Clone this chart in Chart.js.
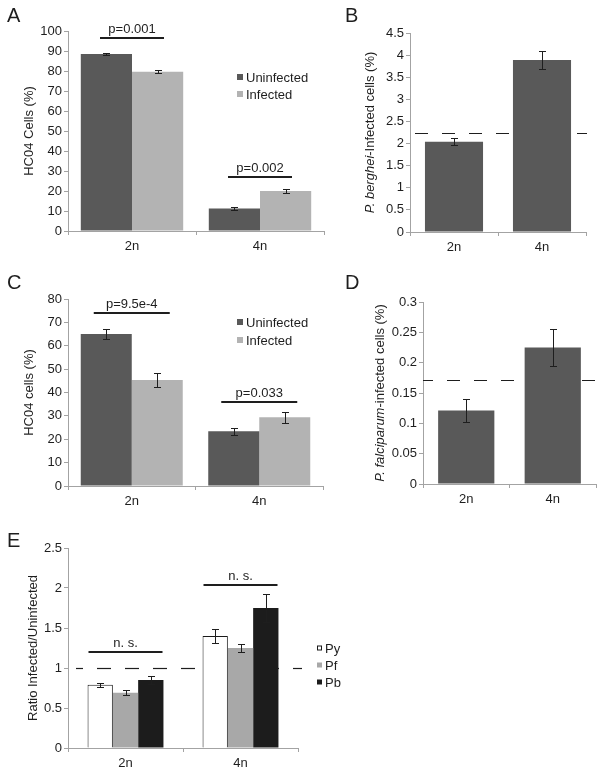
<!DOCTYPE html>
<html>
<head>
<meta charset="utf-8">
<script src="https://cdn.jsdelivr.net/npm/chart.js@4.4.0/dist/chart.umd.min.js"></script>
<style>
  body { margin: 0; background: #fff; }
  #fig { position: relative; width: 602px; height: 771px; }
  canvas { position: absolute; }
</style>
</head>
<body>
<div id="fig">
  <canvas id="chartA" width="340" height="265" style="left:0;top:0"></canvas>
  <canvas id="chartB" width="262" height="265" style="left:340px;top:0"></canvas>
  <canvas id="chartC" width="340" height="265" style="left:0;top:265px"></canvas>
  <canvas id="chartD" width="262" height="265" style="left:340px;top:265px"></canvas>
  <canvas id="chartE" width="602" height="241" style="left:0;top:530px"></canvas>
</div>
<script>
var groups = ['2n', '4n'];

// A - HC04 cells, P. berghei
var aUninfected = [88.5, 11.2];
var aUninfectedErr = [0.6, 0.6];
var aInfected = [79.6, 20.0];
var aInfectedErr = [0.8, 0.8];
var aPLabels = ['p=0.001', 'p=0.002'];
var aPLevels = [96.6, 27];

// B - P. berghei infected cells
var bInfected = [2.04, 3.89];
var bInfectedErr = [0.075, 0.2];
var bMean = 2.23;

// C - HC04 cells, P. falciparum
var cUninfected = [65.0, 23.4];
var cUninfectedErr = [2.1, 1.5];
var cInfected = [45.3, 29.4];
var cInfectedErr = [3.0, 2.4];
var cPLabels = ['p=9.5e-4', 'p=0.033'];
var cPLevels = [74, 36];

// D - P. falciparum infected cells
var dInfected = [0.121, 0.225];
var dInfectedErr = [0.019, 0.031];
var dMean = 0.171;

// E - ratio infected / uninfected
var ePy = [0.79, 1.40];
var ePyErr = [0.027, 0.083];
var ePf = [0.69, 1.25];
var ePfErr = [0.03, 0.046];
var ePb = [0.85, 1.75];
var ePbErr = [0.05, 0.18];
var eLabels = ['n. s.', 'n. s.'];
var eLevels = [1.2, 2.04];
var eRef = 1;

var FONT = "'Liberation Sans', Arial, sans-serif";
var INK = '#1e1e1e';
var AXIS = '#a3a3a3';
var DARK = '#595959';
var LIGHT = '#b3b3b3';

function fmt(v) {
  return String(Math.round(v * 100) / 100);
}

var errorBars = {
  id: 'errorBars',
  afterDatasetsDraw: function(chart) {
    var ctx = chart.ctx, y = chart.scales.y;
    ctx.save();
    ctx.strokeStyle = INK;
    ctx.lineWidth = 1;
    chart.data.datasets.forEach(function(ds, i) {
      if (!ds.errors) return;
      chart.getDatasetMeta(i).data.forEach(function(bar, j) {
        var v = ds.data[j], e = ds.errors[j];
        var x = Math.round(bar.x) + 0.5;
        var top = Math.round(y.getPixelForValue(v + e)) + 0.5;
        var bot = Math.round(y.getPixelForValue(v - e)) + 0.5;
        ctx.beginPath();
        ctx.moveTo(x, top); ctx.lineTo(x, bot);
        ctx.moveTo(x - 3.5, top); ctx.lineTo(x + 3.5, top);
        ctx.moveTo(x - 3.5, bot); ctx.lineTo(x + 3.5, bot);
        ctx.stroke();
      });
    });
    ctx.restore();
  }
};

function drawTitle(ctx, parts, cx, cy) {
  ctx.save();
  ctx.translate(cx, cy);
  ctx.rotate(-Math.PI / 2);
  var total = 0;
  parts.forEach(function(p) {
    ctx.font = (p[1] ? 'italic ' : '') + '13px ' + FONT;
    total += ctx.measureText(p[0]).width;
  });
  var x = -total / 2;
  ctx.fillStyle = INK;
  ctx.textBaseline = 'middle';
  ctx.textAlign = 'left';
  parts.forEach(function(p) {
    ctx.font = (p[1] ? 'italic ' : '') + '13px ' + FONT;
    ctx.fillText(p[0], x, 0);
    x += ctx.measureText(p[0]).width;
  });
  ctx.restore();
}

// letters, axis titles, legend, reference line, significance bars
function figure(cfg) {
  return {
    id: 'figure',
    beforeDatasetsDraw: function(chart) {
      if (!cfg.ref) return;
      var ctx = chart.ctx, area = chart.chartArea;
      var yy = Math.round(chart.scales.y.getPixelForValue(cfg.ref.value)) + 0.5;
      ctx.save();
      ctx.strokeStyle = INK;
      ctx.lineWidth = 1.2;
      ctx.setLineDash(cfg.ref.dash);
      ctx.lineDashOffset = cfg.ref.offset;
      ctx.beginPath();
      ctx.moveTo(area.left + cfg.ref.start, yy);
      ctx.lineTo(area.right + cfg.ref.end, yy);
      ctx.stroke();
      ctx.restore();
    },
    afterDraw: function(chart) {
      var ctx = chart.ctx, area = chart.chartArea;
      ctx.save();
      ctx.fillStyle = INK;
      ctx.font = '20px ' + FONT;
      ctx.textBaseline = 'alphabetic';
      ctx.fillText(cfg.letter[0], cfg.letter[1], cfg.letter[2]);
      ctx.restore();

      drawTitle(ctx, cfg.title, cfg.titleX, (area.top + area.bottom) / 2);

      if (cfg.legend) {
        var lg = cfg.legend;
        ctx.save();
        ctx.font = '13px ' + FONT;
        ctx.textBaseline = 'middle';
        chart.data.datasets.forEach(function(ds, i) {
          var cy = lg.y + i * lg.gap;
          var s = lg.size;
          ctx.fillStyle = ds.backgroundColor;
          ctx.fillRect(lg.x, cy - s / 2, s, s);
          if (ds.borderWidth) {
            ctx.strokeStyle = ds.borderColor;
            ctx.lineWidth = 1;
            ctx.strokeRect(lg.x + 0.5, cy - s / 2 + 0.5, s - 1, s - 1);
          }
          ctx.fillStyle = INK;
          ctx.fillText(ds.label, lg.x + s + 3, cy + 1);
        });
        ctx.restore();
      }

      if (cfg.sig) {
        var xs = chart.scales.x, ys = chart.scales.y;
        ctx.save();
        ctx.strokeStyle = INK;
        ctx.fillStyle = INK;
        ctx.lineWidth = 2;
        ctx.font = '13px ' + FONT;
        ctx.textAlign = 'center';
        ctx.textBaseline = 'bottom';
        cfg.sig.levels.forEach(function(lv, i) {
          var cx = xs.getPixelForValue(i);
          var yy = Math.round(ys.getPixelForValue(lv));
          ctx.beginPath();
          ctx.moveTo(cx - cfg.sig.half, yy);
          ctx.lineTo(cx + cfg.sig.half, yy);
          ctx.stroke();
          ctx.fillText(cfg.sig.labels[i], cx, yy - 2);
        });
        ctx.restore();
      }
    }
  };
}

function makePanel(id, cfg) {
  var canvas = document.getElementById(id);
  var ctx = canvas.getContext('2d');
  var W = canvas.width, H = canvas.height, a = cfg.area;
  var config = {
    type: 'bar',
    data: { labels: groups, datasets: cfg.datasets },
    options: {
      responsive: false,
      animation: false,
      devicePixelRatio: 1,
      layout: { padding: { left: 0, top: a.top, right: W - a.right, bottom: H - a.bottom - 20 } },
      datasets: { bar: { categoryPercentage: cfg.cat, barPercentage: 1 } },
      plugins: { legend: { display: false }, tooltip: { enabled: false } },
      scales: {
        x: {
          grid: { drawOnChartArea: false, color: AXIS, tickLength: 4, offset: true },
          border: { color: AXIS },
          ticks: { color: INK, font: { family: FONT, size: 13 }, padding: 4 },
          afterFit: function(s) { s.height = 20; }
        },
        y: {
          min: 0,
          max: cfg.max,
          grid: { drawOnChartArea: false, color: AXIS, tickLength: 4 },
          border: { color: AXIS },
          ticks: { stepSize: cfg.step, color: INK, font: { family: FONT, size: 13 }, padding: 2, callback: fmt },
          afterFit: function(s) { s.width = a.left; }
        }
      }
    },
    plugins: [errorBars, figure(cfg)]
  };
  return new Chart(ctx, config);
}

window.onload = function() {
  makePanel('chartA', {
    area: { left: 68, top: 31, right: 324, bottom: 231 },
    max: 100, step: 10, cat: 0.8,
    letter: ['A', 7, 22],
    title: [['HC04 Cells (%)', false]], titleX: 29,
    legend: { x: 237, y: 77, gap: 17, size: 6 },
    sig: { levels: aPLevels, labels: aPLabels, half: 32 },
    datasets: [
      { label: 'Uninfected', data: aUninfected, errors: aUninfectedErr, backgroundColor: DARK },
      { label: 'Infected', data: aInfected, errors: aInfectedErr, backgroundColor: LIGHT }
    ]
  });

  makePanel('chartB', {
    area: { left: 70, top: 33, right: 246, bottom: 232 },
    max: 4.5, step: 0.5, cat: 0.66,
    letter: ['B', 5, 22],
    title: [['P. berghei', true], ['-Infected cells (%)', false]], titleX: 30,
    ref: { value: bMean, start: 5, end: 1, dash: [13, 14], offset: 0 },
    datasets: [
      { label: 'Infected', data: bInfected, errors: bInfectedErr, backgroundColor: DARK }
    ]
  });

  makePanel('chartC', {
    area: { left: 68, top: 34, right: 323, bottom: 221 },
    max: 80, step: 10, cat: 0.8,
    letter: ['C', 7, 24],
    title: [['HC04 cells (%)', false]], titleX: 29,
    legend: { x: 237, y: 57, gap: 18, size: 6 },
    sig: { levels: cPLevels, labels: cPLabels, half: 38 },
    datasets: [
      { label: 'Uninfected', data: cUninfected, errors: cUninfectedErr, backgroundColor: DARK },
      { label: 'Infected', data: cInfected, errors: cInfectedErr, backgroundColor: LIGHT }
    ]
  });

  makePanel('chartD', {
    area: { left: 83, top: 37, right: 256, bottom: 219 },
    max: 0.3, step: 0.05, cat: 0.65,
    letter: ['D', 5, 24],
    title: [['P. falciparum', true], ['-infected cells (%)', false]], titleX: 40,
    ref: { value: dMean, start: 0, end: 1, dash: [13, 14], offset: 3 },
    datasets: [
      { label: 'Infected', data: dInfected, errors: dInfectedErr, backgroundColor: DARK }
    ]
  });

  makePanel('chartE', {
    area: { left: 68, top: 18, right: 298, bottom: 218 },
    max: 2.5, step: 0.5, cat: 0.66,
    letter: ['E', 7, 17],
    title: [['Ratio Infected/Uninfected', false]], titleX: 33,
    legend: { x: 317, y: 118, gap: 17, size: 5 },
    ref: { value: eRef, start: 8, end: 4, dash: [14, 14], offset: 7 },
    sig: { levels: eLevels, labels: eLabels, half: 37 },
    datasets: [
      { label: 'Py', data: ePy, errors: ePyErr, backgroundColor: '#ffffff', borderColor: '#1a1a1a', borderWidth: 1 },
      { label: 'Pf', data: ePf, errors: ePfErr, backgroundColor: '#a8a8a8' },
      { label: 'Pb', data: ePb, errors: ePbErr, backgroundColor: '#1c1c1c' }
    ]
  });
};
</script>
</body>
</html>
